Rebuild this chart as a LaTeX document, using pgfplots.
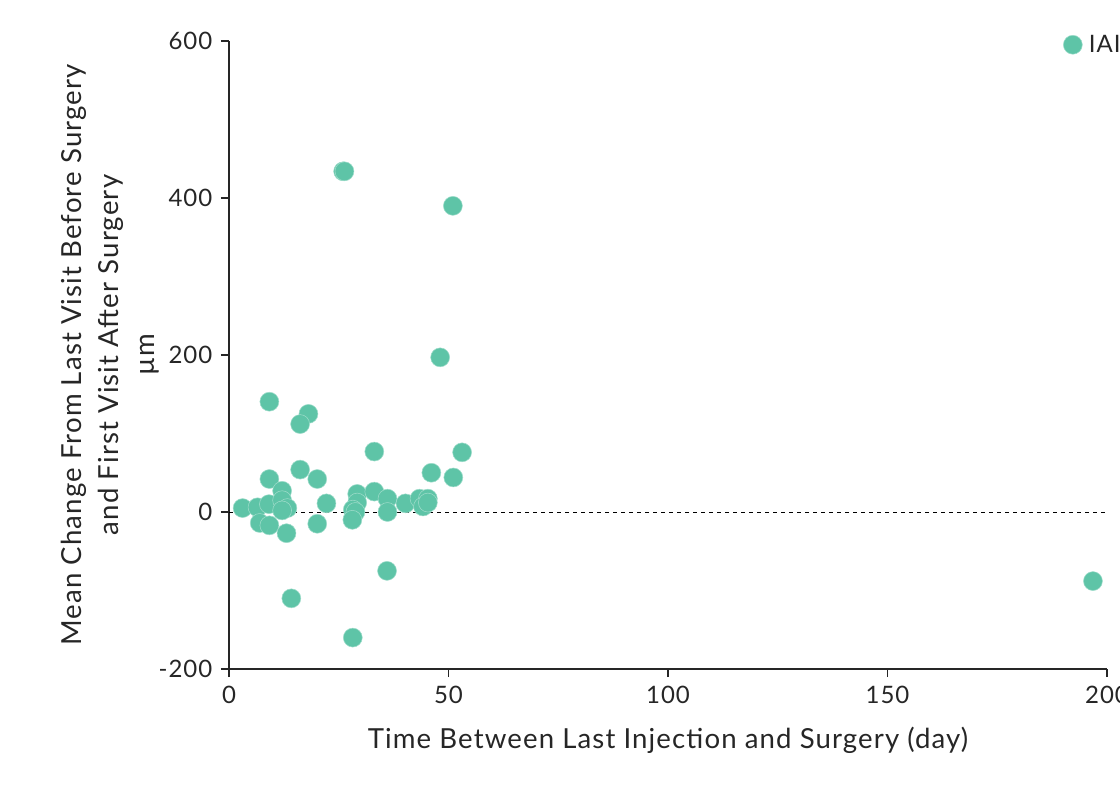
\documentclass[border=0pt]{standalone}
\usepackage{fontspec}
\setmainfont{Lato}[LetterSpace=4]
\usepackage{pgfplots}
\pgfplotsset{compat=1.18}
\definecolor{iai}{RGB}{94,196,167}
\begin{document}
\begin{tikzpicture}
\path[use as bounding box] (-171.75pt,-92.25pt) rectangle (668.25pt,501.75pt);
\begin{axis}[
  scale only axis,
  width=658.5pt, height=471pt,
  xmin=0, xmax=200, ymin=-200, ymax=600,
  axis x line=bottom, axis y line=left,
  axis line style={-, line width=1.3pt, black!85},
  xtick={0,50,100,150,200}, ytick={-200,0,200,400,600},
  tick align=outside, major tick length=6pt,
  tick style={line width=1.3pt, black!85},
  /pgf/number format/assume math mode=true,
  /pgf/number format/1000 sep={},
  tick label style={font=\fontsize{18}{20}\selectfont, text=black!85},
  yticklabel style={xshift=-3pt},
  xticklabel style={yshift=-3pt},
  label style={font=\fontsize{20.7}{27.5}\selectfont, text=black!85},
  xlabel={Time Between Last Injection and Surgery (day)},
  ylabel={Mean Change From Last Visit Before Surgery\\and First Visit After Surgery\\µm},
  ylabel style={align=center, anchor=center, at={(axis description cs:-0.135,0.5)}},
  xlabel style={anchor=center, at={(axis description cs:0.5,-0.113)}},
  legend style={draw=none, fill=none, at={(axis description cs:0.95,0.994)}, anchor=west,
    font=\fontsize{18}{20}\selectfont, text=black!85, inner xsep=0pt,
    nodes={inner xsep=5pt}},
  legend cell align=left,
  clip=false,
]
\addplot[only marks, mark=*, mark size=7.1pt, mark options={draw=iai!60!white, line width=0.4pt, fill=iai}, color=iai] coordinates {
(9.2,140.5) (18.1,125) (16.2,112) (33.1,77) (53.1,76) (16.2,54) (9.2,42) (20.1,42)
(46.1,50) (51.1,44) (12.1,27) (29.2,23) (33.1,26) (36.1,17) (3.1,5) (6.5,6) (9.1,10)
(12.1,15) (13.3,5) (12.1,2) (22.2,11) (29.2,12) (28.2,3) (28.8,0) (28.1,-10) (36.1,0)
(40.2,11) (43.4,17) (45.3,17) (44.2,7) (45.3,12) (7,-14) (9.2,-17) (20.1,-15) (13.1,-27)
(36,-75) (14.2,-110) (28.2,-160) (26,434) (26.3,434) (48.1,197) (51,390) (196.8,-88)
};
\addlegendentry{IAI}
\addplot[black, dashed, line width=0.6pt, forget plot] coordinates {(0,0) (200,0)};
\end{axis}
\end{tikzpicture}
\end{document}
